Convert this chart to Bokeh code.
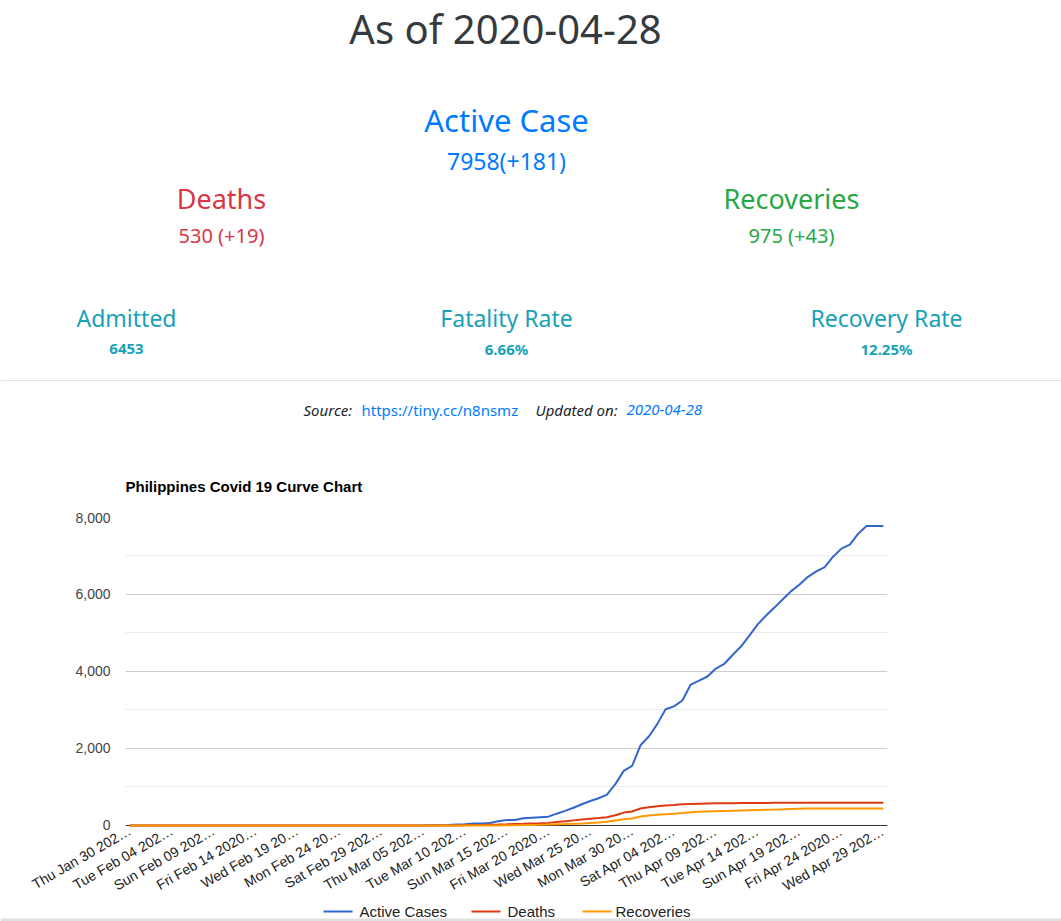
import math
from bokeh.plotting import figure
from bokeh.layouts import column, row
from bokeh.models import Range1d, FixedTicker, NumeralTickFormatter, Span
from bokeh.core.properties import value
from bokeh.embed import file_html
from bokeh.resources import INLINE

# ---------------- data ----------------
as_of = "2020-04-28"
active_total, active_new = 7958, 181
deaths_total, deaths_new = 530, 19
recov_total, recov_new = 975, 43
admitted = 6453
fatality_rate = "6.66%"
recovery_rate = "12.25%"
source_url = "https://tiny.cc/n8nsmz"

tick_labels = ["Thu Jan 30 202\u2026", "Tue Feb 04 202\u2026", "Sun Feb 09 202\u2026", "Fri Feb 14 2020\u2026",
               "Wed Feb 19 20\u2026", "Mon Feb 24 20\u2026", "Sat Feb 29 202\u2026", "Thu Mar 05 202\u2026",
               "Tue Mar 10 202\u2026", "Sun Mar 15 202\u2026", "Fri Mar 20 2020\u2026", "Wed Mar 25 20\u2026",
               "Mon Mar 30 20\u2026", "Sat Apr 04 202\u2026", "Thu Apr 09 202\u2026", "Tue Apr 14 202\u2026",
               "Sun Apr 19 202\u2026", "Fri Apr 24 2020\u2026", "Wed Apr 29 202\u2026"]

# one value per day, Jan 30 .. Apr 29 2020
active_cases = [1, 1, 1, 2, 2, 3, 3, 3, 3, 3, 3, 3, 3, 3, 3, 3, 3, 3, 3, 3, 3, 3, 3, 3, 3, 3, 3, 3, 3, 3,
                3, 3, 3, 3, 3, 3, 5, 6, 10, 24, 33, 49, 52, 64, 111, 140, 142, 187, 202, 217,
                230, 307, 380, 462, 552, 636, 707, 803, 1075, 1418, 1546, 2084, 2311, 2633, 3018, 3094, 3246, 3660, 3764, 3870,
                4076, 4195, 4428, 4648, 4932, 5223, 5453, 5660, 5878, 6087, 6259, 6459, 6599, 6710, 6981, 7192, 7294, 7579, 7777, 7777,
                7777]
deaths = [0, 0, 0, 0, 0, 0, 0, 0, 0, 0, 0, 0, 0, 0, 0, 0, 0, 0, 0, 0, 0, 0, 0, 0, 0, 0, 0, 0, 0, 0,
          0, 0, 0, 0, 0, 0, 0, 0, 0, 0, 5, 10, 15, 20, 25, 32, 40, 46, 53, 60,
          68, 90, 110, 133, 156, 177, 195, 215, 265, 335, 365, 440, 475, 500, 518, 533, 550, 560, 566, 571,
          575, 578, 581, 583, 585, 586, 587, 588, 589, 590, 592, 592, 592, 592, 592, 592, 592, 592, 592, 592,
          592]
recoveries = [0, 0, 0, 0, 0, 0, 0, 0, 0, 0, 0, 0, 0, 0, 0, 0, 0, 0, 0, 0, 0, 0, 0, 0, 0, 0, 0, 0, 0, 0,
              0, 0, 0, 0, 0, 0, 0, 0, 0, 0, 0, 0, 0, 0, 3, 6, 9, 12, 16, 20,
              26, 32, 38, 45, 52, 62, 75, 95, 130, 160, 180, 235, 260, 280, 290, 305, 322, 342, 357, 365,
              372, 379, 386, 392, 398, 403, 408, 413, 420, 430, 437, 441, 442, 442, 442, 442, 442, 442, 442, 442,
              442]
series_names = ["Active Cases", "Deaths", "Recoveries"]
series_colors = ["#3366cc", "#dc3912", "#ff9900"]
y_ticks = [0, 2000, 4000, 6000, 8000]
y_minor = [1000, 3000, 5000, 7000]

day_idx = list(range(len(active_cases)))
tick_idx = list(range(0, len(active_cases), 5))

W = 1061
HF = "Noto Sans"
CF = "Liberation Sans"


def bare(fig):
    fig.axis.visible = False
    fig.grid.visible = False
    fig.outline_line_color = None


def txt(fig, x, y, s, size, color, style="normal", align="center", font=HF):
    fig.text(x=[x], y=[y], text=[s], text_font=value(font), text_font_size=value(f"{size}px"),
             text_color=color, text_font_style=style, text_align=align, text_baseline="middle")


# ---------------- header ----------------
H1 = 500
hdr = figure(width=W, height=H1, x_range=Range1d(0, W), y_range=Range1d(H1, 0),
             output_backend="svg", toolbar_location=None, min_border=0)
bare(hdr)

txt(hdr, 505, 28, f"As of {as_of}", 40, "#343a40")
txt(hdr, 506, 119, "Active Case", 31, "#007bff")
txt(hdr, 506, 160, f"{active_total}(+{active_new})", 23, "#007bff")
txt(hdr, 221, 198, "Deaths", 27, "#dc3545")
txt(hdr, 221, 235, f"{deaths_total} (+{deaths_new})", 20, "#dc3545")
txt(hdr, 791, 198, "Recoveries", 27, "#28a745")
txt(hdr, 791, 235, f"{recov_total} (+{recov_new})", 20, "#28a745")
txt(hdr, 126, 317, "Admitted", 23, "#17a2b8")
txt(hdr, 126, 348, f"{admitted}", 15, "#17a2b8", style="bold")
txt(hdr, 506, 317, "Fatality Rate", 23, "#17a2b8")
txt(hdr, 506, 348, fatality_rate, 15, "#17a2b8", style="bold")
txt(hdr, 886, 317, "Recovery Rate", 23, "#17a2b8")
txt(hdr, 886, 348, recovery_rate, 15, "#17a2b8", style="bold")
hdr.add_layout(Span(location=380, dimension="width", line_color="#e3e3e3", line_width=1))
txt(hdr, 303, 409, "Source:", 15, "#212529", style="italic", align="left")
txt(hdr, 361, 409, source_url, 15, "#007bff", align="left")
txt(hdr, 535, 409, "Updated on:", 15, "#212529", style="italic", align="left")
txt(hdr, 626, 409, as_of, 15, "#007bff", style="italic", align="left")
txt(hdr, 125, 486, "Philippines Covid 19 Curve Chart", 15, "#000000", style="bold", align="left", font=CF)

# ---------------- chart ----------------
TOP, FRAME, BOTTOM = 17, 310, 76
H2 = TOP + FRAME + BOTTOM
p = figure(width=W, height=H2, x_range=Range1d(-0.5, len(active_cases) - 0.5), y_range=Range1d(-52, 8000),
           output_backend="svg", toolbar_location=None,
           min_border_left=125, min_border_right=174, min_border_top=TOP, min_border_bottom=BOTTOM)
p.outline_line_color = None
p.xgrid.visible = False
yt = FixedTicker(ticks=y_ticks, minor_ticks=y_minor)
p.ygrid.ticker = yt
p.ygrid.grid_line_color = "#cccccc"
p.ygrid.minor_grid_line_color = "#ebebeb"

for ax in (p.xaxis[0], p.yaxis[0]):
    ax.axis_line_color = None
    ax.major_tick_line_color = None
    ax.minor_tick_line_color = None
    ax.major_tick_out = 0
    ax.major_tick_in = 0
    ax.minor_tick_out = 0
    ax.minor_tick_in = 0
    ax.major_label_text_font = CF
    ax.major_label_text_font_size = "14px"

p.yaxis.ticker = yt
p.yaxis.formatter = NumeralTickFormatter(format="0,0")
p.yaxis.major_label_standoff = 15
p.yaxis.major_label_text_color = "#444444"

p.xaxis.ticker = FixedTicker(ticks=tick_idx)
p.xaxis.major_label_overrides = {i: lab for i, lab in zip(tick_idx, tick_labels)}
p.xaxis.major_label_orientation = math.pi / 6
p.xaxis.major_label_standoff = 2
p.xaxis.major_label_text_color = "#222222"

p.add_layout(Span(location=0, dimension="width", line_color="#333333", line_width=1, level="underlay"))

for ys, c in zip([active_cases, deaths, recoveries], series_colors):
    p.line(day_idx, ys, line_color=c, line_width=2)

# ---------------- legend ----------------
H3 = 921 - H1 - H2
LY = 911 - H1 - H2
lg = figure(width=W, height=H3, x_range=Range1d(0, W), y_range=Range1d(H3, 0),
            output_backend="svg", toolbar_location=None, min_border=0)
bare(lg)
lx0 = [323, 471, 582]
lx1 = [352, 500, 611]
ltx = [359, 507, 615]
lg.segment(x0=lx0, x1=lx1, y0=[LY] * 3, y1=[LY] * 3, line_color=series_colors, line_width=2)
lg.text(x=ltx, y=[LY] * 3, text=series_names, text_font=value(CF), text_font_size=value("15px"),
        text_color="#222222", text_align="left", text_baseline="middle")
lg.add_layout(Span(location=H3 - 1.5, dimension="width", line_color="#e0e0e0", line_width=3))

layout = column(row(hdr), p, row(lg), spacing=0)
open("out.html", "w").write(file_html(layout, INLINE))
